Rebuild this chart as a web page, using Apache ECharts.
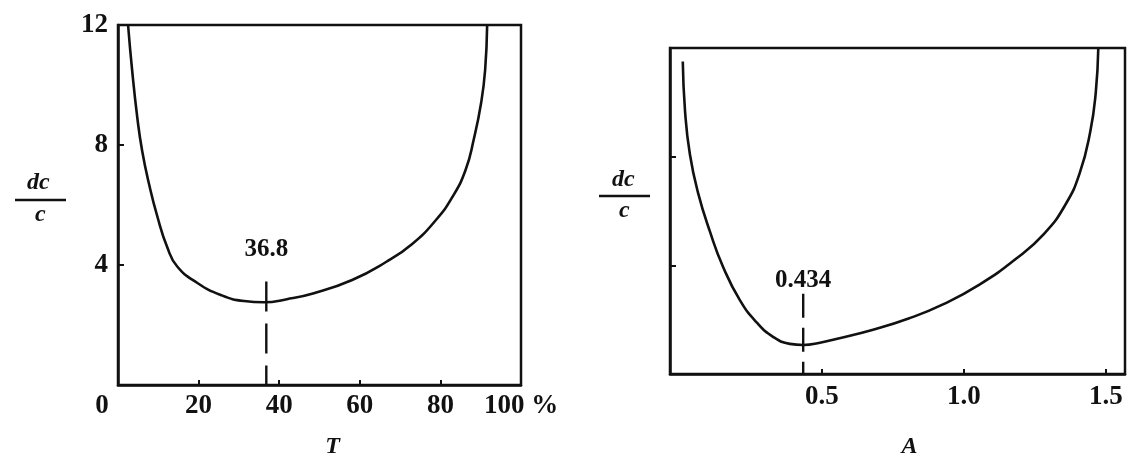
<!DOCTYPE html>
<html><head><meta charset="utf-8">
<script src="https://cdn.jsdelivr.net/npm/echarts@6/dist/echarts.min.js"></script>
<style>html,body{margin:0;padding:0;background:#fff}#c{width:1129px;height:464px}</style>
</head><body><div id="c"></div>
<script>
// Left panel: relative error vs transmittance T (%)
const leftT   = [2.5, 3.5, 4.8, 6.0, 7.7, 9.8, 12.2, 14.7, 19.7, 25.5, 31.3, 36.2, 41.9, 48.6, 58.1, 66.5, 73.0, 78.9, 82.9, 86.2, 88.3, 90.1, 91.1, 91.6];
const leftErr = [12.0, 10.5, 8.9, 7.8, 6.7, 5.6, 4.6, 3.95, 3.4, 3.0, 2.8, 2.76, 2.86, 3.06, 3.5, 4.1, 4.7, 5.5, 6.25, 7.15, 8.2, 9.4, 10.5, 12.0];
// Right panel: relative error vs absorbance A
const rightA   = [0.01, 0.018, 0.035, 0.064, 0.106, 0.152, 0.211, 0.27, 0.329, 0.387, 0.434, 0.493, 0.554, 0.68, 0.805, 0.93, 1.056, 1.182, 1.282, 1.357, 1.408, 1.445, 1.464, 1.473];
const rightErr = [11.5, 9.67, 8.09, 6.66, 5.23, 3.94, 2.72, 1.90, 1.36, 1.11, 1.07, 1.15, 1.30, 1.63, 2.04, 2.58, 3.30, 4.23, 5.16, 6.23, 7.41, 8.94, 10.35, 12.0];
// tick labels
const leftXTicks  = [0, 20, 40, 60, 80, 100];
const leftYTicks  = [4, 8, 12];
const rightXTicks = [0.5, 1.0, 1.5];
const rightYTicks = [4, 8];
// optimum markers
const leftOpt  = 36.8;
const rightOpt = 0.434;
const leftOptTop  = 3.45;
const rightOptTop = 2.95;

const FONT = '"Liberation Serif", "DejaVu Serif", serif';
const INK = '#111';
const numStyle = {fontFamily: FONT, fontWeight: 'bold', fontSize: 27, color: INK};

function pairs(xs, ys) { return xs.map((x, i) => [x, ys[i]]); }

const chart = echarts.init(document.getElementById('c'));
const axisLineStyle = {onZero: false, lineStyle: {color: INK, width: 2.5}};
const optLabel = {show: true, position: 'top', fontFamily: FONT, fontWeight: 'bold', fontSize: 25, color: INK};

chart.setOption({
  backgroundColor: '#fff',
  animation: false,
  grid: [
    {left: 118, top: 25, width: 403, height: 365, show: true, borderColor: INK, borderWidth: 2.5, backgroundColor: 'transparent'},
    {left: 670, top: 48, width: 455, height: 335, show: true, borderColor: INK, borderWidth: 2.5, backgroundColor: 'transparent'}
  ],
  xAxis: [
    {gridIndex: 0, type: 'value', min: 0, max: 100, interval: 20,
     axisLine: axisLineStyle,
     axisTick: {inside: true, length: 5, lineStyle: {color: INK, width: 2}},
     splitLine: {show: false},
     axisLabel: Object.assign({}, numStyle, {margin: 8,
       formatter: v => leftXTicks.indexOf(v) < 0 ? '' : (v === 0 ? '{o|0}' : (v === 100 ? '100 %' : String(v))),
       rich: {o: Object.assign({}, numStyle, {padding: [0, 32, 0, 0]})}}),
     name: 'T', nameLocation: 'middle', nameGap: 50,
     nameTextStyle: {fontFamily: FONT, fontStyle: 'italic', fontWeight: 'bold', fontSize: 24, color: INK, padding: [0, 0, 0, 26]}},
    {gridIndex: 1, type: 'value', min: -0.035, max: 1.567,
     axisLine: axisLineStyle,
     axisTick: {inside: true, length: 5, customValues: rightXTicks, lineStyle: {color: INK, width: 2}},
     splitLine: {show: false},
     axisLabel: Object.assign({}, numStyle, {margin: 10, customValues: rightXTicks, formatter: v => v.toFixed(1)}),
     name: 'A', nameLocation: 'middle', nameGap: 61,
     nameTextStyle: {fontFamily: FONT, fontStyle: 'italic', fontWeight: 'bold', fontSize: 24, color: INK, padding: [0, 0, 0, 24]}}
  ],
  yAxis: [
    {gridIndex: 0, type: 'value', min: 0, max: 12, interval: 4,
     axisLine: axisLineStyle,
     axisTick: {inside: true, length: 6, lineStyle: {color: INK, width: 2}},
     splitLine: {show: false},
     axisLabel: Object.assign({}, numStyle, {margin: 10, formatter: v => leftYTicks.indexOf(v) < 0 ? '' : String(v)})},
    {gridIndex: 1, type: 'value', min: 0, max: 12, interval: 4,
     axisLine: axisLineStyle,
     axisTick: {inside: true, length: 6, customValues: rightYTicks, lineStyle: {color: INK, width: 2}},
     splitLine: {show: false},
     axisLabel: {show: false}}
  ],
  series: [
    {type: 'line', xAxisIndex: 0, yAxisIndex: 0, data: pairs(leftT, leftErr), smooth: 0.5,
     showSymbol: false, lineStyle: {color: INK, width: 2.6}, silent: true},
    {type: 'line', xAxisIndex: 1, yAxisIndex: 1, data: pairs(rightA, rightErr), smooth: 0.5,
     showSymbol: false, lineStyle: {color: INK, width: 2.6}, silent: true},
    {type: 'line', xAxisIndex: 0, yAxisIndex: 0, silent: true, symbol: 'none',
     lineStyle: {color: INK, width: 2.4, type: [30, 12]},
     data: [[leftOpt, leftOptTop], [leftOpt, 0]]},
    {type: 'line', xAxisIndex: 1, yAxisIndex: 1, silent: true, symbol: 'none',
     lineStyle: {color: INK, width: 2.4, type: [24, 10]},
     data: [[rightOpt, rightOptTop], [rightOpt, 0]]},
    {type: 'scatter', xAxisIndex: 0, yAxisIndex: 0, silent: true, symbolSize: 2,
     itemStyle: {color: 'transparent', opacity: 1},
     label: Object.assign({}, optLabel, {distance: 18, formatter: String(leftOpt)}),
     data: [[leftOpt, leftOptTop]]},
    {type: 'scatter', xAxisIndex: 1, yAxisIndex: 1, silent: true, symbolSize: 2,
     itemStyle: {color: 'transparent', opacity: 1},
     label: Object.assign({}, optLabel, {distance: 0, formatter: String(rightOpt)}),
     data: [[rightOpt, rightOptTop]]}
  ],
  graphic: [
    {type: 'text', left: 27, top: 171, style: {text: 'dc', font: 'italic bold 24px ' + FONT, fill: INK}},
    {type: 'line', shape: {x1: 15, y1: 200, x2: 66, y2: 200}, style: {stroke: INK, lineWidth: 2.5}},
    {type: 'text', left: 35, top: 203, style: {text: 'c', font: 'italic bold 24px ' + FONT, fill: INK}},
    {type: 'text', left: 612, top: 168, style: {text: 'dc', font: 'italic bold 24px ' + FONT, fill: INK}},
    {type: 'line', shape: {x1: 599, y1: 196, x2: 650, y2: 196}, style: {stroke: INK, lineWidth: 2.5}},
    {type: 'text', left: 619, top: 199, style: {text: 'c', font: 'italic bold 24px ' + FONT, fill: INK}}
  ]
});
</script></body></html>
